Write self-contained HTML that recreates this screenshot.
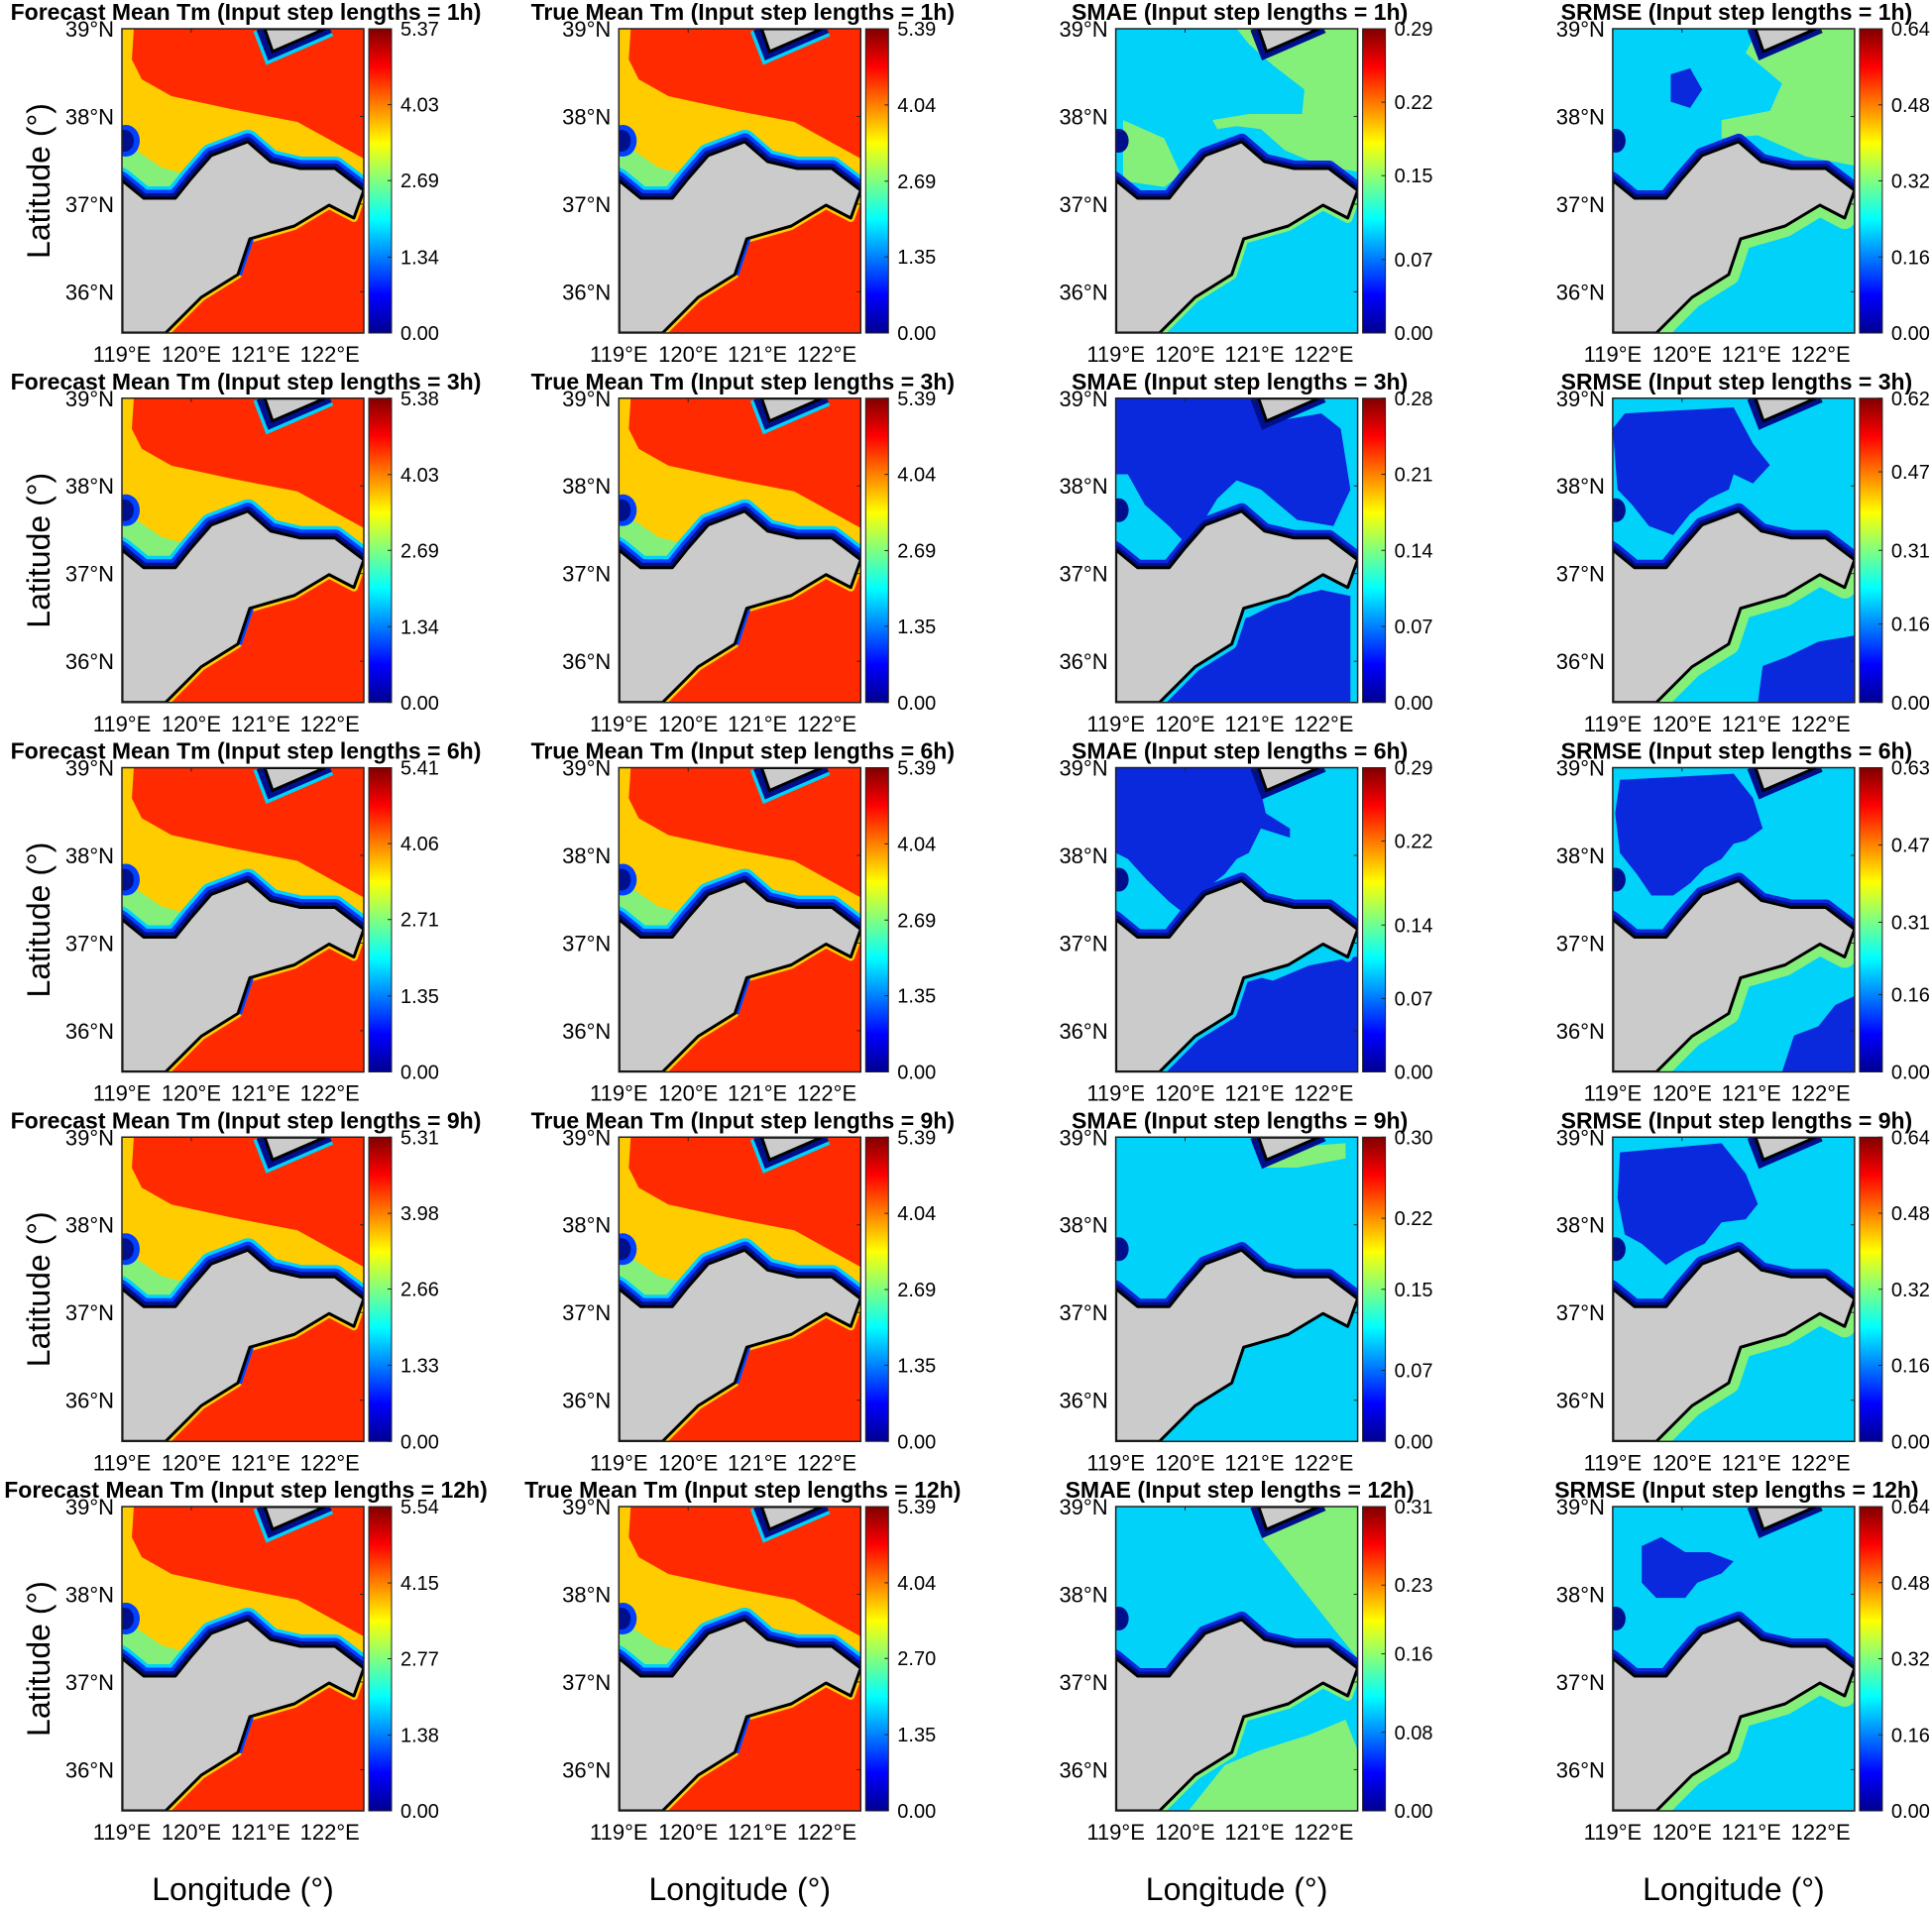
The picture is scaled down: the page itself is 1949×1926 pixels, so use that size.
<!DOCTYPE html>
<html><head><meta charset="utf-8">
<style>
html,body{margin:0;padding:0;background:#fff;}
svg{display:block;font-family:"Liberation Sans",Arial,sans-serif;}
</style></head>
<body>
<svg id="fig" width="1949" height="1926" viewBox="0 0 1949 1926" xmlns="http://www.w3.org/2000/svg">
<defs>
<linearGradient id="jet" x1="0" y1="1" x2="0" y2="0">
<stop offset="0" stop-color="#00008f"/><stop offset="0.125" stop-color="#0000ff"/>
<stop offset="0.375" stop-color="#00ffff"/><stop offset="0.625" stop-color="#ffff00"/>
<stop offset="0.875" stop-color="#ff0000"/><stop offset="1" stop-color="#800000"/>
</linearGradient>
</defs>
</svg>
<script>
// ---- data ----
const panelTitles = ["Forecast Mean Tm", "True Mean Tm", "SMAE", "SRMSE"];
const stepLengths = ["1h", "3h", "6h", "9h", "12h"];
const cbMaxCol0 = [5.37, 5.38, 5.41, 5.31, 5.54];
const cbMaxCol1 = [5.39, 5.39, 5.39, 5.39, 5.39];
const cbMaxCol2 = [0.29, 0.28, 0.29, 0.30, 0.31];
const cbMaxCol3 = [0.64, 0.62, 0.63, 0.64, 0.64];
const cbTicksCol0 = [["4.03","2.69","1.34"],["4.03","2.69","1.34"],["4.06","2.71","1.35"],["3.98","2.66","1.33"],["4.15","2.77","1.38"]];
const cbTicksCol1 = [["4.04","2.69","1.35"],["4.04","2.69","1.35"],["4.04","2.69","1.35"],["4.04","2.69","1.35"],["4.04","2.70","1.35"]];
const cbTicksCol2 = [["0.22","0.15","0.07"],["0.21","0.14","0.07"],["0.22","0.14","0.07"],["0.22","0.15","0.07"],["0.23","0.16","0.08"]];
const cbTicksCol3 = [["0.48","0.32","0.16"],["0.47","0.31","0.16"],["0.47","0.31","0.16"],["0.48","0.32","0.16"],["0.48","0.32","0.16"]];
const lonTicks = [119, 120, 121, 122];
const latTicks = [39, 38, 37, 36];

const cbMax = [cbMaxCol0, cbMaxCol1, cbMaxCol2, cbMaxCol3];
const cbTicks = [cbTicksCol0, cbTicksCol1, cbTicksCol2, cbTicksCol3];

// ---- geometry ----
const NS = "http://www.w3.org/2000/svg";
const svg = document.getElementById('fig');
const MW = 244, MH = 307;
const lonMin = 119, lonMax = 122.49, latMax = 39, latMin = 35.53;
function xScale(lon){ return (lon - lonMin) / (lonMax - lonMin) * MW; }
function yScale(lat){ return (latMax - lat) / (latMax - latMin) * MH; }

const landPts = [[0,153],[22,171],[54,171],[70,151],[90,128],[127,114],[150,134],[180,141],[215,141],[244,163],[234,191],[209,178],[174,199],[129,212],[117,248],[80,271],[44,307],[0,307]];
const northCoast = [[-5,150],[0,153],[22,171],[54,171],[70,151],[90,128],[127,114],[150,134],[180,141],[215,141],[244,163],[250,166]];
const southCoast = [[244,163],[234,191],[209,178],[174,199],[129,212],[117,248],[80,271],[44,307]];
const islandPts = [[144,0],[152,23],[205,0]];

function pts(a){ return a.map(p=>p[0]+','+p[1]).join(' '); }
function fr(a){ return a.map(p=>[p[0]*MW, p[1]*MH]); }

const BLUE = "#0a28dc", CYAN = "#00d2fa", GREEN = "#84f07a", NAVY = "#00108c", RED = "#ff2a00", YEL = "#ffcc00";

const errRegions = {
 "2-0": [[GREEN, fr([[0.5,0],[1,0],[1,0.47],[0.85,0.45],[0.7,0.4],[0.6,0.33],[0.5,0.32],[0.42,0.33],[0.4,0.3],[0.55,0.28],[0.77,0.28],[0.78,0.2],[0.65,0.12],[0.55,0.05]])],
         [GREEN, fr([[0.03,0.3],[0.2,0.36],[0.27,0.48],[0.2,0.52],[0.03,0.5]])]],
 "2-1": [[BLUE, fr([[0,0],[0.6,0],[0.62,0.05],[0.7,0.07],[0.85,0.05],[0.93,0.1],[0.97,0.3],[0.9,0.42],[0.75,0.4],[0.6,0.3],[0.5,0.27],[0.42,0.33],[0.35,0.42],[0.28,0.47],[0.22,0.42],[0.12,0.35],[0.05,0.25],[0,0.25]])],
         [BLUE, fr([[0.15,1],[0.3,0.86],[0.4,0.75],[0.55,0.72],[0.7,0.66],[0.85,0.63],[0.97,0.65],[0.97,1]])]],
 "2-2": [[BLUE, fr([[0,0],[0.6,0],[0.6,0.08],[0.62,0.15],[0.72,0.2],[0.72,0.23],[0.6,0.2],[0.55,0.28],[0.5,0.3],[0.45,0.35],[0.37,0.4],[0.33,0.44],[0.3,0.49],[0.22,0.44],[0.13,0.37],[0.05,0.3],[0,0.28]])],
         [BLUE, fr([[0.2,1],[0.3,0.85],[0.38,0.8],[0.45,0.72],[0.55,0.68],[0.65,0.7],[0.8,0.65],[1,0.62],[1,1]])]],
 "2-3": [[GREEN, fr([[0.6,0.04],[0.95,0.02],[0.95,0.07],[0.75,0.1],[0.62,0.1]])]],
 "2-4": [[GREEN, fr([[0.6,0],[1,0],[1,0.5],[0.85,0.35],[0.7,0.2],[0.6,0.1]])],
         [GREEN, fr([[0.3,1],[0.45,0.85],[0.6,0.8],[0.8,0.75],[0.95,0.7],[1,0.8],[1,1]])]],
 "3-0": [[GREEN, fr([[0.6,0],[1,0],[1,0.45],[0.8,0.42],[0.6,0.35],[0.45,0.36],[0.45,0.3],[0.65,0.27],[0.7,0.18],[0.55,0.08]])],
         [BLUE, fr([[0.24,0.15],[0.32,0.13],[0.37,0.2],[0.32,0.26],[0.24,0.24]])]],
 "3-1": [[BLUE, fr([[0.05,0.05],[0.5,0.03],[0.58,0.15],[0.65,0.22],[0.58,0.28],[0.5,0.25],[0.48,0.3],[0.4,0.33],[0.32,0.38],[0.25,0.45],[0.15,0.42],[0.08,0.35],[0.02,0.3],[0,0.1]])],
         [BLUE, fr([[0.6,1],[0.62,0.88],[0.72,0.85],[0.85,0.8],[1,0.78],[1,1]])]],
 "3-2": [[BLUE, fr([[0.03,0.04],[0.5,0.02],[0.58,0.1],[0.62,0.2],[0.55,0.24],[0.5,0.25],[0.45,0.3],[0.38,0.33],[0.32,0.38],[0.25,0.42],[0.16,0.42],[0.1,0.35],[0.03,0.28],[0.01,0.15]])],
         [BLUE, fr([[0.7,1],[0.75,0.88],[0.85,0.85],[0.92,0.78],[1,0.75],[1,1]])]],
 "3-3": [[BLUE, fr([[0.03,0.05],[0.45,0.02],[0.55,0.12],[0.6,0.22],[0.55,0.27],[0.45,0.28],[0.38,0.35],[0.3,0.38],[0.22,0.42],[0.12,0.35],[0.05,0.32],[0.02,0.2]])]],
 "3-4": [[BLUE, fr([[0.12,0.13],[0.2,0.1],[0.3,0.15],[0.4,0.15],[0.5,0.18],[0.45,0.22],[0.35,0.25],[0.3,0.3],[0.18,0.3],[0.12,0.25]])]]
};

function el(tag, attrs, parent){
  const e = document.createElementNS(NS, tag);
  for (const k in attrs) e.setAttribute(k, attrs[k]);
  (parent||svg).appendChild(e);
  return e;
}
function txt(s, attrs, parent){ const t = el('text', attrs, parent); t.textContent = s; return t; }

for (let r = 0; r < 5; r++) {
  for (let c = 0; c < 4; c++) {
    const ox = 123 + c * 501.3, oy = 29 + r * 372.75;
    const g = el('g', {transform: `translate(${ox},${oy})`});
    
    

    const clipId = `clip${c}${r}`;
    const cp = el('clipPath', {id: clipId}, g);
    el('rect', {x:0, y:0, width:MW, height:MH}, cp);
    const m = el('g', {'clip-path': `url(#${clipId})`}, g);
    
    

    const isTm = c < 2;
    const bg = el('rect', {x:0, y:0, width:MW, height:MH, fill: isTm ? RED : CYAN}, m);
    
    

    if (isTm) {
      const yel = el('polygon', {points: pts([[0,0],[12,0],[10,31],[20,51],[50,68],[110,81],[177,94],[244,131],[244,170],[0,170]]), fill: YEL}, m);
      
      
      el('polygon', {points: pts([[0,115],[18,125],[40,140],[62,146],[70,155],[22,175],[0,158]]), fill: GREEN}, m);
      el('polyline', {points: pts(northCoast), fill:'none', stroke: CYAN, 'stroke-width': 24, 'stroke-linejoin':'round'}, m);
      el('polyline', {points: pts(northCoast), fill:'none', stroke: "#0040ff", 'stroke-width': 17, 'stroke-linejoin':'round'}, m);
      el('polyline', {points: pts(northCoast), fill:'none', stroke: NAVY, 'stroke-width': 10, 'stroke-linejoin':'round'}, m);
      el('ellipse', {cx:4, cy:113, rx:14, ry:16, fill: "#0040ff"}, m);
      el('ellipse', {cx:3, cy:113, rx:9, ry:11, fill: NAVY}, m);
      el('polyline', {points: pts(southCoast), fill:'none', stroke: YEL, 'stroke-width': 8, 'stroke-linejoin':'round'}, m);
      el('polyline', {points: pts([[129,212],[117,248]]), fill:'none', stroke: "#0040ff", 'stroke-width': 8}, m);
      el('polyline', {points: pts([[140,0],[150,26],[210,0]]), fill:'none', stroke: CYAN, 'stroke-width': 16}, m);
      el('polyline', {points: pts([[140,0],[150,26],[210,0]]), fill:'none', stroke: NAVY, 'stroke-width': 9}, m);
    } else {
      const regs = errRegions[`${c}-${r}`] || [];
      regs.forEach(rg => {
        const p = el('polygon', {points: pts(rg[1]), fill: rg[0]}, m);
        
        
      });
      const southCol = (c === 3 || r === 0 || r === 4) ? GREEN : CYAN;
      el('polyline', {points: pts(southCoast), fill:'none', stroke: southCol, 'stroke-width': c===3?22:10, 'stroke-linejoin':'round'}, m);
      el('polyline', {points: pts(northCoast), fill:'none', stroke: BLUE, 'stroke-width': 16, 'stroke-linejoin':'round'}, m);
      el('polyline', {points: pts(northCoast), fill:'none', stroke: NAVY, 'stroke-width': 9, 'stroke-linejoin':'round'}, m);
      el('ellipse', {cx:3, cy:113, rx:10, ry:12, fill: NAVY}, m);
      el('polyline', {points: pts([[140,0],[150,26],[210,0]]), fill:'none', stroke: NAVY, 'stroke-width': 9}, m);
    }
    const land = el('polygon', {points: pts(landPts), fill:'#cbcbcb', stroke:'#000', 'stroke-width':3, 'stroke-linejoin':'round'}, m);
    
    
    const isl = el('polygon', {points: pts(islandPts), fill:'#cbcbcb', stroke:'#000', 'stroke-width':3}, m);
    
    

    const frame = el('rect', {x:0, y:0, width:MW, height:MH, fill:'none', stroke:'#222', 'stroke-width':1.5}, g);
    
    

    const t = txt(`${panelTitles[c]} (Input step lengths = ${stepLengths[r]})`, {x: MW/2 + 3, y: -9, 'text-anchor':'middle', 'font-size':23, 'font-weight':'bold', fill:'#000'}, g);
    
    

    latTicks.forEach(v => {
      const y = yScale(v);
      const l = txt(`${v}°N`, {x:-8, y: y + 8, 'text-anchor':'end', 'font-size':22, fill:'#000'}, g);
      
      
      el('line', {x1:MW-4, x2:MW, y1:y, y2:y, stroke:'#222', 'stroke-width':1}, g);
    });
    lonTicks.forEach(v => {
      const x = xScale(v);
      const l = txt(`${v}°E`, {x: x, y: MH + 29, 'text-anchor':'middle', 'font-size':22, fill:'#000'}, g);
      
      
      el('line', {x1:x, x2:x, y1:0, y2:4, stroke:'#222', 'stroke-width':1}, g);
    });

    const cb = el('rect', {x:MW+5, y:0, width:23, height:MH, fill:'url(#jet)', stroke:'#222', 'stroke-width':1}, g);
    
    
    const mx = cbMax[c][r];
    const labels = [mx.toFixed(2)].concat(cbTicks[c][r]).concat(["0.00"]);
    labels.forEach((s) => {
      const v = parseFloat(s);
      const y = MH - v / mx * MH;
      const l = txt(s, {x: MW + 37, y: y + 7, 'font-size':20, fill:'#000'}, g);
      
      
      el('line', {x1:MW+28-4, x2:MW+28, y1:y, y2:y, stroke:'#222', 'stroke-width':1}, g);
    });

    if (c === 0) {
      const yl = txt('Latitude (°)', {x:0, y:0, transform:`translate(-73,${MH/2}) rotate(-90)`, 'text-anchor':'middle', 'font-size':32, fill:'#000'}, g);
      
      
    }
    if (r === 4) {
      const xl = txt('Longitude (°)', {x: MW/2, y: MH + 90, 'text-anchor':'middle', 'font-size':32, fill:'#000'}, g);
      
      
    }
  }
}
</script>
</body></html>
